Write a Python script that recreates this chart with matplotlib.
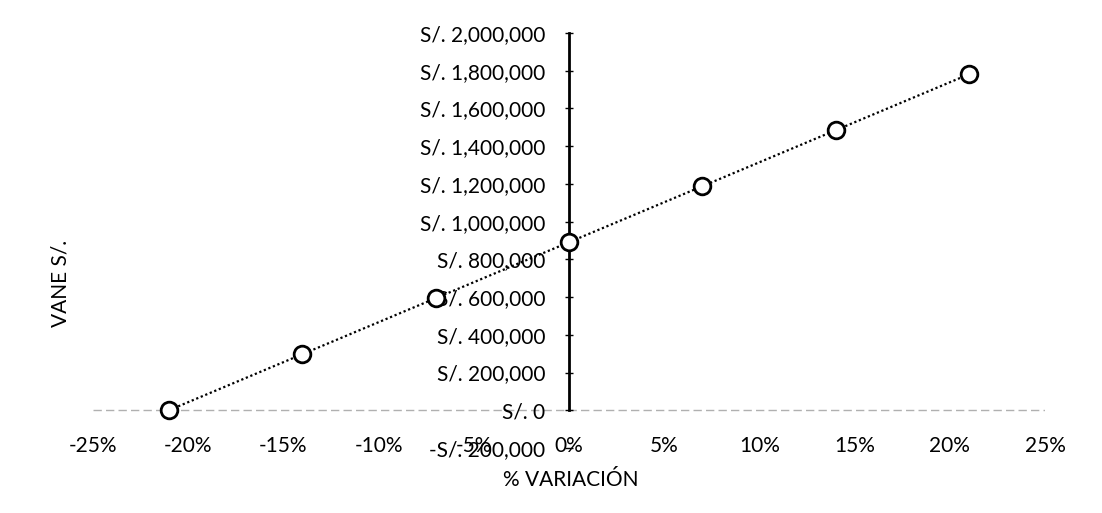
import numpy as np
import matplotlib
matplotlib.use("Agg")
import matplotlib.pyplot as plt
from matplotlib.ticker import FuncFormatter

# sensitivity data
variacion = [-0.21, -0.14, -0.07, 0.0, 0.07, 0.14, 0.21]
vane = [0, 297000, 594000, 893000, 1188000, 1484000, 1780000]

x_ticks = [-0.25, -0.20, -0.15, -0.10, -0.05, 0.0, 0.05, 0.10, 0.15, 0.20, 0.25]
y_ticks = list(range(-200000, 2000001, 200000))

plt.rcParams["font.family"] = ["Lato", "DejaVu Sans"]

fig = plt.figure(figsize=(11.02, 5.13), dpi=100, facecolor="white")
ax = fig.add_axes([0.0844, 0.1267, 0.8639, 0.809])

# dotted linear trendline
coef = np.polyfit(variacion, vane, 1)
xs = np.array([min(variacion), max(variacion)])
ax.plot(xs, np.polyval(coef, xs), color="black", linestyle=(0, (1, 1.2)),
        linewidth=1.6, zorder=2)
ax.plot(variacion, vane, linestyle="none", marker="o", markersize=12,
        markerfacecolor="white", markeredgecolor="black", markeredgewidth=2,
        zorder=3)

ax.set_xlim(-0.25, 0.25)
ax.set_ylim(-200000, 2000000)
ax.set_xticks(x_ticks)
ax.set_yticks(y_ticks)
ax.xaxis.set_major_formatter(FuncFormatter(lambda v, p: f"{v * 100:.0f}%"))


def soles(v, p):
    v = int(round(v))
    if v < 0:
        return f"-S/. {abs(v):,}"
    return f"S/. {v:,}"


ax.yaxis.set_major_formatter(FuncFormatter(soles))

for s in ("top", "right", "bottom"):
    ax.spines[s].set_visible(False)
ax.spines["left"].set_position(("data", 0))
ax.spines["left"].set_bounds(0, 2000000)
ax.spines["left"].set_linewidth(2)
ax.axhline(0, color="#b0b0b0", linewidth=1, linestyle=(0, (6, 3)), zorder=1)

ax.tick_params(axis="y", direction="inout", length=6, width=1, pad=14,
               labelsize=15, labelcolor="black")
ax.tick_params(axis="x", length=0, pad=-9, labelsize=15, labelcolor="black")

fig.text(0.5182, 0.064, "% VARIACIÓN", ha="center", va="center", fontsize=15)
fig.text(0.055, 1 - 283 / 513, "VANE S/.", ha="center", va="center",
         rotation=90, fontsize=15)

fig.savefig("out.png", dpi=100, facecolor="white")
